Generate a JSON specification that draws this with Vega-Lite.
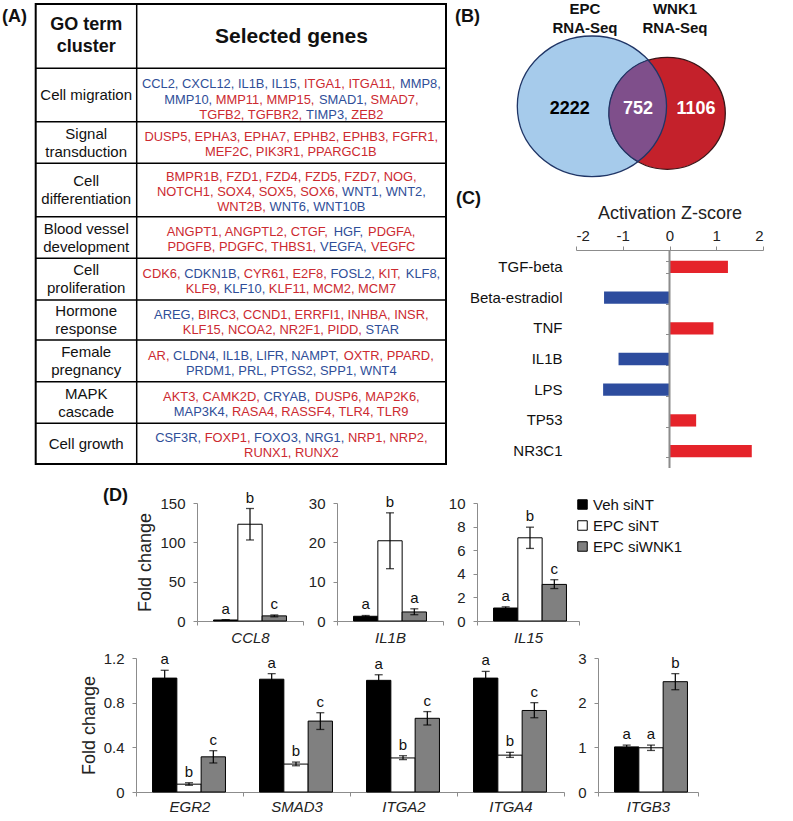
{
"$schema": "https://vega.github.io/schema/vega-lite/v6.json",
"padding": 0,
"background": "#ffffff",
"config": {
  "font": "Liberation Sans",
  "view": {"stroke": null},
  "axis": {"grid": false, "domainColor": "#8c8c8c", "tickColor": "#8c8c8c", "labelColor": "#222222", "titleColor": "#222222", "titleFontWeight": "normal", "labelFontSize": 15, "tickSize": 4, "labelOverlap": false}
},
"align": "none",
"spacing": 18,
"vconcat": [
 {"hconcat": [
  {
   "width": 447, "height": 466,
   "encoding": {
     "x": {"field": "x", "type": "quantitative", "scale": {"domain": [0, 447], "nice": false, "zero": false}, "axis": null},
     "y": {"field": "y", "type": "quantitative", "scale": {"domain": [0, 466], "reverse": true, "nice": false, "zero": false}, "axis": null}
   },
   "layer": [
     {"data": {"values": [{"x": 35.7, "x2": 446, "y": 4, "y2": 464}]},
      "mark": {"type": "rect", "fillOpacity": 0, "stroke": "#000000", "strokeWidth": 2},
      "encoding": {"x2": {"field": "x2"}, "y2": {"field": "y2"}}},
     {"data": {"values": [{"x": 35.7, "x2": 446, "y": 68.3}, {"x": 35.7, "x2": 446, "y": 121.7}, {"x": 35.7, "x2": 446, "y": 163.3}, {"x": 35.7, "x2": 446, "y": 216.7}, {"x": 35.7, "x2": 446, "y": 258.3}, {"x": 35.7, "x2": 446, "y": 300}, {"x": 35.7, "x2": 446, "y": 340}, {"x": 35.7, "x2": 446, "y": 381.7}, {"x": 35.7, "x2": 446, "y": 423.3}]},
      "mark": {"type": "rule", "color": "#000000", "strokeWidth": 1.5},
      "encoding": {"x2": {"field": "x2"}}},
     {"data": {"values": [{"x": 136.7, "y": 4, "y2": 464}]},
      "mark": {"type": "rule", "color": "#000000", "strokeWidth": 1.5},
      "encoding": {"y2": {"field": "y2"}}},
     {"data": {"values": [{"x": 2, "y": 17, "t": "(A)"}]},
      "mark": {"type": "text", "align": "left", "baseline": "middle", "fontSize": 18, "fontWeight": "bold", "color": "#111111"},
      "encoding": {"text": {"field": "t"}}},
     {"data": {"values": [{"x": 86.2, "y": 25, "t": "GO term"}, {"x": 86.2, "y": 46.7, "t": "cluster"}]},
      "mark": {"type": "text", "align": "center", "baseline": "middle", "fontSize": 18, "fontWeight": "bold", "color": "#111111"},
      "encoding": {"text": {"field": "t"}}},
     {"data": {"values": [{"x": 291.4, "y": 37, "t": "Selected genes"}]},
      "mark": {"type": "text", "align": "center", "baseline": "middle", "fontSize": 21, "fontWeight": "bold", "color": "#111111"},
      "encoding": {"text": {"field": "t"}}},
     {"data": {"values": [
        {"x": 86.2, "y": 95, "t": "Cell migration"},
        {"x": 86.2, "y": 133.5, "t": "Signal"}, {"x": 86.2, "y": 151.5, "t": "transduction"},
        {"x": 86.2, "y": 181, "t": "Cell"}, {"x": 86.2, "y": 199, "t": "differentiation"},
        {"x": 86.2, "y": 228.5, "t": "Blood vessel"}, {"x": 86.2, "y": 246.5, "t": "development"},
        {"x": 86.2, "y": 270, "t": "Cell"}, {"x": 86.2, "y": 288, "t": "proliferation"},
        {"x": 86.2, "y": 311, "t": "Hormone"}, {"x": 86.2, "y": 329, "t": "response"},
        {"x": 86.2, "y": 352, "t": "Female"}, {"x": 86.2, "y": 370, "t": "pregnancy"},
        {"x": 86.2, "y": 393.5, "t": "MAPK"}, {"x": 86.2, "y": 411.5, "t": "cascade"},
        {"x": 86.2, "y": 443.7, "t": "Cell growth"}]},
      "mark": {"type": "text", "align": "center", "baseline": "middle", "fontSize": 15, "color": "#111111"},
      "encoding": {"text": {"field": "t"}}},
     {"data": {"values": [
        {"x": 141.9, "y": 84, "t": "CCL2, CXCL12, IL1B, IL15,", "dir": "down"},
        {"x": 304.0, "y": 84, "t": "ITGA1, ITGA11,", "dir": "up"},
        {"x": 400.0, "y": 84, "t": "MMP8,", "dir": "down"},
        {"x": 164.2, "y": 99.5, "t": "MMP10,", "dir": "down"},
        {"x": 215.8, "y": 99.5, "t": "MMP11, MMP15,", "dir": "up"},
        {"x": 319.0, "y": 99.5, "t": "SMAD1,", "dir": "down"},
        {"x": 370.6, "y": 99.5, "t": "SMAD7,", "dir": "up"},
        {"x": 199.3, "y": 115, "t": "TGFB2, TGFBR2,", "dir": "up"},
        {"x": 306.1, "y": 115, "t": "TIMP3,", "dir": "down"},
        {"x": 351.3, "y": 115, "t": "ZEB2", "dir": "up"},
        {"x": 144.4, "y": 137, "t": "DUSP5, EPHA3, EPHA7, EPHB2, EPHB3, FGFR1,", "dir": "up"},
        {"x": 205.0, "y": 152, "t": "MEF2C, PIK3R1, PPARGC1B", "dir": "up"},
        {"x": 166.0, "y": 177, "t": "BMPR1B, FZD1, FZD4, FZD5, FZD7, NOG,", "dir": "up"},
        {"x": 157.0, "y": 192, "t": "NOTCH1, SOX4, SOX5, SOX6,", "dir": "up"},
        {"x": 342.0, "y": 192, "t": "WNT1, WNT2,", "dir": "down"},
        {"x": 217.2, "y": 207, "t": "WNT2B,", "dir": "up"},
        {"x": 269.5, "y": 207, "t": "WNT6, WNT10B", "dir": "down"},
        {"x": 166.7, "y": 232, "t": "ANGPT1, ANGPTL2, CTGF,", "dir": "up"},
        {"x": 333.7, "y": 232, "t": "HGF,", "dir": "down"},
        {"x": 368.1, "y": 232, "t": "PDGFA,", "dir": "up"},
        {"x": 167.4, "y": 247, "t": "PDGFB, PDGFC, THBS1,", "dir": "up"},
        {"x": 320.1, "y": 247, "t": "VEGFA,", "dir": "down"},
        {"x": 371.0, "y": 247, "t": "VEGFC", "dir": "up"},
        {"x": 142.6, "y": 274, "t": "CDK6,", "dir": "up"},
        {"x": 184.2, "y": 274, "t": "CDKN1B,", "dir": "down"},
        {"x": 243.7, "y": 274, "t": "CYR61, E2F8,", "dir": "up"},
        {"x": 330.5, "y": 274, "t": "FOSL2,", "dir": "down"},
        {"x": 378.5, "y": 274, "t": "KIT,", "dir": "up"},
        {"x": 405.8, "y": 274, "t": "KLF8,", "dir": "down"},
        {"x": 185.7, "y": 289, "t": "KLF9,", "dir": "up"},
        {"x": 223.7, "y": 289, "t": "KLF10,", "dir": "down"},
        {"x": 268.8, "y": 289, "t": "KLF11, MCM2, MCM7", "dir": "up"},
        {"x": 154.1, "y": 315, "t": "AREG,", "dir": "down"},
        {"x": 197.9, "y": 315, "t": "BIRC3, CCND1, ERRFI1, INHBA, INSR,", "dir": "up"},
        {"x": 182.8, "y": 330, "t": "KLF15, NCOA2, NR2F1, PIDD,", "dir": "up"},
        {"x": 365.6, "y": 330, "t": "STAR", "dir": "down"},
        {"x": 148.0, "y": 355.5, "t": "AR,", "dir": "up"},
        {"x": 173.1, "y": 355.5, "t": "CLDN4, IL1B, LIFR, NAMPT,", "dir": "down"},
        {"x": 343.7, "y": 355.5, "t": "OXTR, PPARD,", "dir": "up"},
        {"x": 186.0, "y": 370.5, "t": "PRDM1, PRL, PTGS2, SPP1, WNT4", "dir": "down"},
        {"x": 163.1, "y": 397, "t": "AKT3, CAMK2D,", "dir": "up"},
        {"x": 263.4, "y": 397, "t": "CRYAB,", "dir": "down"},
        {"x": 315.1, "y": 397, "t": "DUSP6, MAP2K6,", "dir": "up"},
        {"x": 173.8, "y": 412, "t": "MAP3K4,", "dir": "down"},
        {"x": 231.9, "y": 412, "t": "RASA4, RASSF4, TLR4, TLR9", "dir": "up"},
        {"x": 155.2, "y": 438, "t": "CSF3R,", "dir": "down"},
        {"x": 204.7, "y": 438, "t": "FOXP1,", "dir": "up"},
        {"x": 254.1, "y": 438, "t": "FOXO3, NRG1,", "dir": "down"},
        {"x": 348.0, "y": 438, "t": "NRP1, NRP2,", "dir": "up"},
        {"x": 244.1, "y": 453, "t": "RUNX1, RUNX2", "dir": "up"}]},
      "mark": {"type": "text", "align": "left", "baseline": "middle", "fontSize": 12.9},
      "encoding": {"text": {"field": "t"}, "color": {"field": "dir", "type": "nominal", "scale": {"domain": ["up", "down", "positive", "negative"], "range": ["#cc2a30", "#2f4e98", "#e5232a", "#2d4c9e"]}, "legend": null}}}
   ]
  },
  {"vconcat": [
    {
     "width": 217, "height": 250,
     "encoding": {
       "x": {"field": "x", "type": "quantitative", "scale": {"domain": [576, 793], "nice": false, "zero": false}, "axis": null},
       "y": {"field": "y", "type": "quantitative", "scale": {"domain": [0, 250], "reverse": true, "nice": false, "zero": false}, "axis": null}
     },
     "layer": [
       {"data": {"values": [{"x": 592, "y": 106.3, "set": "EPC RNA-Seq"}]},
        "mark": {"type": "point", "shape": "M -74.7 0 A 74.7 70.3 0 1 0 74.7 0 A 74.7 70.3 0 1 0 -74.7 0 Z", "size": 4, "filled": true, "fill": "#a6cbeb", "stroke": "#1f3566", "strokeWidth": 1.3, "opacity": 1}},
       {"data": {"values": [{"x": 667.3, "y": 113.3, "set": "WNK1 RNA-Seq"}]},
        "mark": {"type": "point", "shape": "M -58 0 A 58 56 0 1 0 58 0 A 58 56 0 1 0 -58 0 Z", "size": 4, "filled": true, "fill": "#c4212b", "stroke": "#3a1518", "strokeWidth": 1.3, "opacity": 1}},
       {"data": {"values": [{"x": 643, "y": 111, "set": "overlap"}]},
        "mark": {"type": "point", "shape": "M 5 -51 A 58 56 0 0 0 -5 50.6 A 74.7 70.3 0 0 0 5 -51 Z", "size": 4, "filled": true, "fill": "#7f4f8b", "stroke": "#1f3566", "strokeWidth": 1.3, "opacity": 1}},
       {"data": {"values": [{"x": 585, "y": 9, "t": "EPC"}, {"x": 585, "y": 27.5, "t": "RNA-Seq"}, {"x": 675, "y": 9, "t": "WNK1"}, {"x": 675, "y": 27.5, "t": "RNA-Seq"}]},
        "mark": {"type": "text", "align": "center", "baseline": "middle", "fontSize": 15, "fontWeight": "bold", "color": "#111111"},
        "encoding": {"text": {"field": "t"}}},
       {"data": {"values": [{"x": 569.7, "y": 109, "t": "2222"}]},
        "mark": {"type": "text", "align": "center", "baseline": "middle", "fontSize": 18, "fontWeight": "bold", "color": "#000000"},
        "encoding": {"text": {"field": "t"}}},
       {"data": {"values": [{"x": 638, "y": 109, "t": "752"}, {"x": 696, "y": 109, "t": "1106"}]},
        "mark": {"type": "text", "align": "center", "baseline": "middle", "fontSize": 18, "fontWeight": "bold", "color": "#ffffff"},
        "encoding": {"text": {"field": "t"}}},
       {"data": {"values": [{"x": 455, "y": 17, "t": "(B)"}, {"x": 456, "y": 199, "t": "(C)"}]},
        "mark": {"type": "text", "align": "left", "baseline": "middle", "fontSize": 18, "fontWeight": "bold", "color": "#111111"},
        "encoding": {"text": {"field": "t"}}}
     ]
    },
    {
     "width": 187, "height": 218,
     "data": {"values": [
       {"k": "TGF-beta", "z": 1.25, "s": "positive"},
       {"k": "Beta-estradiol", "z": -1.4, "s": "negative"},
       {"k": "TNF", "z": 0.94, "s": "positive"},
       {"k": "IL1B", "z": -1.09, "s": "negative"},
       {"k": "LPS", "z": -1.42, "s": "negative"},
       {"k": "TP53", "z": 0.57, "s": "positive"},
       {"k": "NR3C1", "z": 1.76, "s": "positive"}]},
     "layer": [
       {"mark": {"type": "bar"},
        "encoding": {
          "y": {"field": "k", "type": "nominal", "sort": null, "title": null, "scale": {"paddingInner": 0.6, "paddingOuter": 0.35}, "axis": {"domain": false, "ticks": false, "labelPadding": 14, "labelFontSize": 15, "labelColor": "#111111"}},
          "x": {"field": "z", "type": "quantitative", "title": "Activation Z-score", "scale": {"domain": [-2, 2], "nice": false}, "axis": {"orient": "top", "values": [-2, -1, 0, 1, 2], "labelExpr": "datum.value < 0 ? '-' + abs(datum.value) : '' + datum.value", "tickSize": 4, "labelPadding": 3, "labelFontSize": 15, "titleFontSize": 18, "titlePadding": 6}},
          "color": {"field": "s", "type": "nominal", "scale": {"domain": ["up", "down", "positive", "negative"], "range": ["#cc2a30", "#2f4e98", "#e5232a", "#2d4c9e"]}, "legend": null}}},
       {"mark": {"type": "bar", "opacity": 0},
        "encoding": {
          "y": {"field": "k", "type": "nominal", "sort": null, "title": null, "axis": {"orient": "left", "offset": -93.5, "labels": false, "domain": false, "ticks": true, "tickBand": "extent", "tickExtra": true, "tickSize": 4}},
          "x": {"field": "z", "type": "quantitative", "title": "Activation Z-score"}}},
       {"mark": {"type": "rule", "color": "#8c8c8c", "strokeWidth": 1.2},
        "encoding": {"x": {"datum": 0}}}
     ],
     "resolve": {"axis": {"y": "independent"}}
    }
  ], "spacing": 0, "bounds": "flush", "align": "none"}
 ], "spacing": 8, "align": "none"},
 {"vconcat": [
  {"hconcat": [
    {
     "width": 163, "height": 118,
     "data": {"values": [{"x": 103, "y": 495, "t": "(D)"}]},
     "mark": {"type": "text", "align": "left", "baseline": "middle", "fontSize": 18, "fontWeight": "bold", "color": "#111111"},
     "encoding": {
       "x": {"field": "x", "type": "quantitative", "scale": {"domain": [0, 163], "nice": false, "zero": false}, "axis": null},
       "y": {"field": "y", "type": "quantitative", "scale": {"domain": [502, 620], "reverse": true, "nice": false, "zero": false}, "axis": null},
       "text": {"field": "t"}}
    },
    {
     "width": 106, "height": 118,
     "data": {"values": [
       {"g": "CCL8", "c": "Veh siNT", "v": 1.3, "lo": 1.0, "hi": 1.6, "L": "a"},
       {"g": "CCL8", "c": "EPC siNT", "v": 123, "lo": 103, "hi": 143, "L": "b"},
       {"g": "CCL8", "c": "EPC siWNK1", "v": 6.5, "lo": 5.3, "hi": 7.7, "L": "c"}]},
     "encoding": {
       "x": {"field": "g", "type": "nominal", "title": null, "scale": {"paddingInner": 0, "paddingOuter": 0}, "axis": {"labelAngle": 0, "labelFontStyle": "italic", "tickBand": "extent", "tickExtra": true, "labelPadding": 5}},
       "xOffset": {"field": "c", "type": "nominal", "sort": ["Veh siNT", "EPC siNT", "EPC siWNK1"], "scale": {"paddingInner": 0, "paddingOuter": 0.68}}
     },
     "layer": [
       {"mark": {"type": "bar", "stroke": "#000000", "strokeWidth": 1},
        "encoding": {
          "y": {"field": "v", "type": "quantitative", "title": "Fold change", "scale": {"domain": [0, 150], "nice": false}, "axis": {"values": [0, 50, 100, 150], "labelOverlap": false, "labelPadding": 8, "titleFontSize": 18, "titlePadding": 5}},
          "fill": {"field": "c", "type": "nominal", "scale": {"domain": ["Veh siNT", "EPC siNT", "EPC siWNK1"], "range": ["#000000", "#ffffff", "#808080"]}, "legend": {"orient": "none", "legendX": 575, "legendY": 497, "title": null, "direction": "vertical", "symbolType": "square", "symbolSize": 90, "symbolStrokeColor": "#000000", "symbolStrokeWidth": 1, "labelFontSize": 15, "labelColor": "#111111", "rowPadding": 5, "labelOffset": 3}}}},
       {"mark": {"type": "rule", "color": "#000000", "strokeWidth": 1.2},
        "encoding": {"y": {"field": "lo", "type": "quantitative", "title": "Fold change", "scale": {"domain": [0, 150], "nice": false}, "axis": {"values": [0, 50, 100, 150], "labelOverlap": false, "labelPadding": 8, "titleFontSize": 18, "titlePadding": 5}}, "y2": {"field": "hi"}}},
       {"mark": {"type": "tick", "color": "#000000", "size": 8, "thickness": 1.3},
        "encoding": {"y": {"field": "lo", "type": "quantitative", "title": "Fold change", "scale": {"domain": [0, 150], "nice": false}, "axis": {"values": [0, 50, 100, 150], "labelOverlap": false, "labelPadding": 8, "titleFontSize": 18, "titlePadding": 5}}}},
       {"mark": {"type": "tick", "color": "#000000", "size": 8, "thickness": 1.3},
        "encoding": {"y": {"field": "hi", "type": "quantitative", "title": "Fold change", "scale": {"domain": [0, 150], "nice": false}, "axis": {"values": [0, 50, 100, 150], "labelOverlap": false, "labelPadding": 8, "titleFontSize": 18, "titlePadding": 5}}}},
       {"mark": {"type": "text", "baseline": "bottom", "dy": -3, "fontSize": 15, "color": "#111111"},
        "encoding": {"y": {"field": "hi", "type": "quantitative", "title": "Fold change", "scale": {"domain": [0, 150], "nice": false}, "axis": {"values": [0, 50, 100, 150], "labelOverlap": false, "labelPadding": 8, "titleFontSize": 18, "titlePadding": 5}}, "text": {"field": "L"}}}
     ]
    },
    {
     "width": 106, "height": 118,
     "data": {"values": [
       {"g": "IL1B", "c": "Veh siNT", "v": 1.2, "lo": 1.0, "hi": 1.4, "L": "a"},
       {"g": "IL1B", "c": "EPC siNT", "v": 20.4, "lo": 13.3, "hi": 27.5, "L": "b"},
       {"g": "IL1B", "c": "EPC siWNK1", "v": 2.3, "lo": 1.6, "hi": 3.1, "L": "a"}]},
     "encoding": {
       "x": {"field": "g", "type": "nominal", "title": null, "scale": {"paddingInner": 0, "paddingOuter": 0}, "axis": {"labelAngle": 0, "labelFontStyle": "italic", "tickBand": "extent", "tickExtra": true, "labelPadding": 5}},
       "xOffset": {"field": "c", "type": "nominal", "sort": ["Veh siNT", "EPC siNT", "EPC siWNK1"], "scale": {"paddingInner": 0, "paddingOuter": 0.68}}
     },
     "layer": [
       {"mark": {"type": "bar", "stroke": "#000000", "strokeWidth": 1},
        "encoding": {
          "y": {"field": "v", "type": "quantitative", "title": null, "scale": {"domain": [0, 30], "nice": false}, "axis": {"values": [0, 10, 20, 30], "labelOverlap": false, "labelPadding": 8}},
          "fill": {"field": "c", "type": "nominal", "scale": {"domain": ["Veh siNT", "EPC siNT", "EPC siWNK1"], "range": ["#000000", "#ffffff", "#808080"]}, "legend": {"orient": "none", "legendX": 575, "legendY": 497, "title": null, "direction": "vertical", "symbolType": "square", "symbolSize": 90, "symbolStrokeColor": "#000000", "symbolStrokeWidth": 1, "labelFontSize": 15, "labelColor": "#111111", "rowPadding": 5, "labelOffset": 3}}}},
       {"mark": {"type": "rule", "color": "#000000", "strokeWidth": 1.2},
        "encoding": {"y": {"field": "lo", "type": "quantitative", "title": null, "scale": {"domain": [0, 30], "nice": false}, "axis": {"values": [0, 10, 20, 30], "labelOverlap": false, "labelPadding": 8}}, "y2": {"field": "hi"}}},
       {"mark": {"type": "tick", "color": "#000000", "size": 8, "thickness": 1.3},
        "encoding": {"y": {"field": "lo", "type": "quantitative", "title": null, "scale": {"domain": [0, 30], "nice": false}, "axis": {"values": [0, 10, 20, 30], "labelOverlap": false, "labelPadding": 8}}}},
       {"mark": {"type": "tick", "color": "#000000", "size": 8, "thickness": 1.3},
        "encoding": {"y": {"field": "hi", "type": "quantitative", "title": null, "scale": {"domain": [0, 30], "nice": false}, "axis": {"values": [0, 10, 20, 30], "labelOverlap": false, "labelPadding": 8}}}},
       {"mark": {"type": "text", "baseline": "bottom", "dy": -3, "fontSize": 15, "color": "#111111"},
        "encoding": {"y": {"field": "hi", "type": "quantitative", "title": null, "scale": {"domain": [0, 30], "nice": false}, "axis": {"values": [0, 10, 20, 30], "labelOverlap": false, "labelPadding": 8}}, "text": {"field": "L"}}}
     ]
    },
    {
     "width": 102, "height": 118,
     "data": {"values": [
       {"g": "IL15", "c": "Veh siNT", "v": 1.1, "lo": 1.0, "hi": 1.2, "L": "a"},
       {"g": "IL15", "c": "EPC siNT", "v": 7.05, "lo": 6.15, "hi": 7.95, "L": "b"},
       {"g": "IL15", "c": "EPC siWNK1", "v": 3.1, "lo": 2.75, "hi": 3.5, "L": "c"}]},
     "encoding": {
       "x": {"field": "g", "type": "nominal", "title": null, "scale": {"paddingInner": 0, "paddingOuter": 0}, "axis": {"labelAngle": 0, "labelFontStyle": "italic", "tickBand": "extent", "tickExtra": true, "labelPadding": 5}},
       "xOffset": {"field": "c", "type": "nominal", "sort": ["Veh siNT", "EPC siNT", "EPC siWNK1"], "scale": {"paddingInner": 0, "paddingOuter": 0.68}}
     },
     "layer": [
       {"mark": {"type": "bar", "stroke": "#000000", "strokeWidth": 1},
        "encoding": {
          "y": {"field": "v", "type": "quantitative", "title": null, "scale": {"domain": [0, 10], "nice": false}, "axis": {"values": [0, 2, 4, 6, 8, 10], "labelOverlap": false, "labelPadding": 8}},
          "fill": {"field": "c", "type": "nominal", "scale": {"domain": ["Veh siNT", "EPC siNT", "EPC siWNK1"], "range": ["#000000", "#ffffff", "#808080"]}, "legend": {"orient": "none", "legendX": 575, "legendY": 497, "title": null, "direction": "vertical", "symbolType": "square", "symbolSize": 90, "symbolStrokeColor": "#000000", "symbolStrokeWidth": 1, "labelFontSize": 15, "labelColor": "#111111", "rowPadding": 5, "labelOffset": 3}}}},
       {"mark": {"type": "rule", "color": "#000000", "strokeWidth": 1.2},
        "encoding": {"y": {"field": "lo", "type": "quantitative", "title": null, "scale": {"domain": [0, 10], "nice": false}, "axis": {"values": [0, 2, 4, 6, 8, 10], "labelOverlap": false, "labelPadding": 8}}, "y2": {"field": "hi"}}},
       {"mark": {"type": "tick", "color": "#000000", "size": 8, "thickness": 1.3},
        "encoding": {"y": {"field": "lo", "type": "quantitative", "title": null, "scale": {"domain": [0, 10], "nice": false}, "axis": {"values": [0, 2, 4, 6, 8, 10], "labelOverlap": false, "labelPadding": 8}}}},
       {"mark": {"type": "tick", "color": "#000000", "size": 8, "thickness": 1.3},
        "encoding": {"y": {"field": "hi", "type": "quantitative", "title": null, "scale": {"domain": [0, 10], "nice": false}, "axis": {"values": [0, 2, 4, 6, 8, 10], "labelOverlap": false, "labelPadding": 8}}}},
       {"mark": {"type": "text", "baseline": "bottom", "dy": -3, "fontSize": 15, "color": "#111111"},
        "encoding": {"y": {"field": "hi", "type": "quantitative", "title": null, "scale": {"domain": [0, 10], "nice": false}, "axis": {"values": [0, 2, 4, 6, 8, 10], "labelOverlap": false, "labelPadding": 8}}, "text": {"field": "L"}}}
     ]
    }
  ], "spacing": 34, "bounds": "flush", "align": "none"},
  {"hconcat": [
    {
     "width": 102, "height": 134,
     "data": {"values": [{"t": ""}]},
     "mark": {"type": "text"},
     "encoding": {"text": {"field": "t"}}
    },
    {
     "width": 428, "height": 134,
     "data": {"values": [
       {"g": "EGR2", "c": "Veh siNT", "v": 1.02, "lo": 0.95, "hi": 1.09, "L": "a"},
       {"g": "EGR2", "c": "EPC siNT", "v": 0.07, "lo": 0.06, "hi": 0.083, "L": "b"},
       {"g": "EGR2", "c": "EPC siWNK1", "v": 0.315, "lo": 0.26, "hi": 0.37, "L": "c"},
       {"g": "SMAD3", "c": "Veh siNT", "v": 1.01, "lo": 0.96, "hi": 1.06, "L": "a"},
       {"g": "SMAD3", "c": "EPC siNT", "v": 0.25, "lo": 0.235, "hi": 0.268, "L": "b"},
       {"g": "SMAD3", "c": "EPC siWNK1", "v": 0.635, "lo": 0.56, "hi": 0.71, "L": "c"},
       {"g": "ITGA2", "c": "Veh siNT", "v": 1.0, "lo": 0.96, "hi": 1.05, "L": "a"},
       {"g": "ITGA2", "c": "EPC siNT", "v": 0.305, "lo": 0.29, "hi": 0.325, "L": "b"},
       {"g": "ITGA2", "c": "EPC siWNK1", "v": 0.66, "lo": 0.6, "hi": 0.72, "L": "c"},
       {"g": "ITGA4", "c": "Veh siNT", "v": 1.02, "lo": 0.96, "hi": 1.08, "L": "a"},
       {"g": "ITGA4", "c": "EPC siNT", "v": 0.33, "lo": 0.31, "hi": 0.355, "L": "b"},
       {"g": "ITGA4", "c": "EPC siWNK1", "v": 0.73, "lo": 0.665, "hi": 0.8, "L": "c"}]},
     "encoding": {
       "x": {"field": "g", "type": "nominal", "title": null, "sort": ["EGR2", "SMAD3", "ITGA2", "ITGA4"], "scale": {"paddingInner": 0, "paddingOuter": 0}, "axis": {"labelAngle": 0, "labelFontStyle": "italic", "tickBand": "extent", "tickExtra": true, "labelPadding": 3}},
       "xOffset": {"field": "c", "type": "nominal", "sort": ["Veh siNT", "EPC siNT", "EPC siWNK1"], "scale": {"paddingInner": 0, "paddingOuter": 0.68}}
     },
     "layer": [
       {"mark": {"type": "bar", "stroke": "#000000", "strokeWidth": 1},
        "encoding": {
          "y": {"field": "v", "type": "quantitative", "title": "Fold change", "scale": {"domain": [0, 1.2], "nice": false}, "axis": {"values": [0, 0.4, 0.8, 1.2], "format": "~g", "labelPadding": 8, "titleFontSize": 18, "titlePadding": 5}},
          "fill": {"field": "c", "type": "nominal", "scale": {"domain": ["Veh siNT", "EPC siNT", "EPC siWNK1"], "range": ["#000000", "#ffffff", "#808080"]}, "legend": {"orient": "none", "legendX": 575, "legendY": 497, "title": null, "direction": "vertical", "symbolType": "square", "symbolSize": 90, "symbolStrokeColor": "#000000", "symbolStrokeWidth": 1, "labelFontSize": 15, "labelColor": "#111111", "rowPadding": 5, "labelOffset": 3}}}},
       {"mark": {"type": "rule", "color": "#000000", "strokeWidth": 1.2},
        "encoding": {"y": {"field": "lo", "type": "quantitative", "title": "Fold change", "scale": {"domain": [0, 1.2], "nice": false}}, "y2": {"field": "hi"}}},
       {"mark": {"type": "tick", "color": "#000000", "size": 8, "thickness": 1.3},
        "encoding": {"y": {"field": "lo", "type": "quantitative", "title": "Fold change", "scale": {"domain": [0, 1.2], "nice": false}}}},
       {"mark": {"type": "tick", "color": "#000000", "size": 8, "thickness": 1.3},
        "encoding": {"y": {"field": "hi", "type": "quantitative", "title": "Fold change", "scale": {"domain": [0, 1.2], "nice": false}}}},
       {"mark": {"type": "text", "baseline": "bottom", "dy": -3, "fontSize": 15, "color": "#111111"},
        "encoding": {"y": {"field": "hi", "type": "quantitative", "title": "Fold change", "scale": {"domain": [0, 1.2], "nice": false}}, "text": {"field": "L"}}}
     ]
    },
    {
     "width": 100, "height": 134,
     "data": {"values": [
       {"g": "ITGB3", "c": "Veh siNT", "v": 1.01, "lo": 0.98, "hi": 1.05, "L": "a"},
       {"g": "ITGB3", "c": "EPC siNT", "v": 0.99, "lo": 0.93, "hi": 1.05, "L": "a"},
       {"g": "ITGB3", "c": "EPC siWNK1", "v": 2.47, "lo": 2.29, "hi": 2.65, "L": "b"}]},
     "encoding": {
       "x": {"field": "g", "type": "nominal", "title": null, "scale": {"paddingInner": 0, "paddingOuter": 0}, "axis": {"labelAngle": 0, "labelFontStyle": "italic", "tickBand": "extent", "tickExtra": true, "labelPadding": 3}},
       "xOffset": {"field": "c", "type": "nominal", "sort": ["Veh siNT", "EPC siNT", "EPC siWNK1"], "scale": {"paddingInner": 0, "paddingOuter": 0.7}}
     },
     "layer": [
       {"mark": {"type": "bar", "stroke": "#000000", "strokeWidth": 1},
        "encoding": {
          "y": {"field": "v", "type": "quantitative", "title": null, "scale": {"domain": [0, 3], "nice": false}, "axis": {"values": [0, 1, 2, 3], "labelPadding": 8}},
          "fill": {"field": "c", "type": "nominal", "scale": {"domain": ["Veh siNT", "EPC siNT", "EPC siWNK1"], "range": ["#000000", "#ffffff", "#808080"]}, "legend": {"orient": "none", "legendX": 575, "legendY": 497, "title": null, "direction": "vertical", "symbolType": "square", "symbolSize": 90, "symbolStrokeColor": "#000000", "symbolStrokeWidth": 1, "labelFontSize": 15, "labelColor": "#111111", "rowPadding": 5, "labelOffset": 3}}}},
       {"mark": {"type": "rule", "color": "#000000", "strokeWidth": 1.2},
        "encoding": {"y": {"field": "lo", "type": "quantitative", "title": null, "scale": {"domain": [0, 3], "nice": false}}, "y2": {"field": "hi"}}},
       {"mark": {"type": "tick", "color": "#000000", "size": 8, "thickness": 1.3},
        "encoding": {"y": {"field": "lo", "type": "quantitative", "title": null, "scale": {"domain": [0, 3], "nice": false}}}},
       {"mark": {"type": "tick", "color": "#000000", "size": 8, "thickness": 1.3},
        "encoding": {"y": {"field": "hi", "type": "quantitative", "title": null, "scale": {"domain": [0, 3], "nice": false}}}},
       {"mark": {"type": "text", "baseline": "bottom", "dy": -3, "fontSize": 15, "color": "#111111"},
        "encoding": {"y": {"field": "hi", "type": "quantitative", "title": null, "scale": {"domain": [0, 3], "nice": false}}, "text": {"field": "L"}}}
     ]
    }
  ], "spacing": 34, "bounds": "flush", "align": "none"}
 ], "spacing": 6, "align": "none"}
]
}
